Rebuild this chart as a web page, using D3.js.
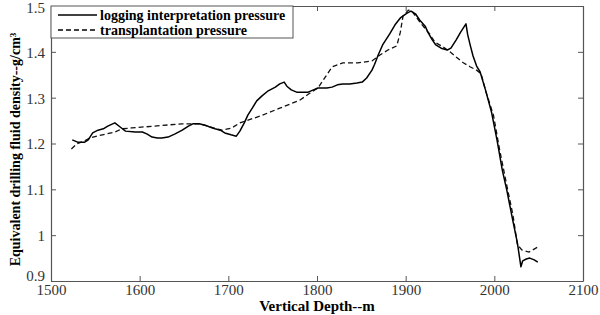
<!DOCTYPE html>
<html>
<head>
<meta charset="utf-8">
<script src="https://cdn.jsdelivr.net/npm/d3@7"></script>
<style>
  body { margin: 0; background: #fff; }
  svg text { font-family: "Liberation Serif", "Times New Roman", "DejaVu Serif", serif; }
</style>
</head>
<body>
<div id="chart"></div>
<script>
// logging interpretation pressure (solid)
const loggingDepth = [1524, 1530, 1538, 1542, 1547, 1553, 1559, 1564, 1572, 1578, 1584, 1595, 1603, 1608, 1614, 1620, 1625, 1632, 1640, 1648, 1655, 1660, 1667, 1674, 1679, 1685, 1691, 1696, 1703, 1709, 1713, 1718, 1722, 1727, 1732, 1738, 1745, 1753, 1758, 1763, 1766, 1771, 1777, 1784, 1790, 1796, 1801, 1811, 1817, 1823, 1829, 1837, 1845, 1851, 1856, 1862, 1865, 1869, 1874, 1882, 1888, 1894, 1902, 1906, 1911, 1916, 1922, 1925, 1930, 1934, 1940, 1947, 1951, 1957, 1962, 1968, 1970, 1973, 1976, 1980, 1984, 1990, 1997, 2003, 2009, 2014, 2020, 2026, 2030, 2032, 2036, 2040, 2045, 2049];
const loggingDensity = [1.208, 1.203, 1.203, 1.208, 1.223, 1.229, 1.232, 1.238, 1.245, 1.236, 1.227, 1.225, 1.225, 1.221, 1.214, 1.212, 1.212, 1.214, 1.221, 1.229, 1.238, 1.243, 1.243, 1.240, 1.236, 1.232, 1.229, 1.223, 1.219, 1.216, 1.227, 1.245, 1.262, 1.277, 1.293, 1.304, 1.315, 1.323, 1.330, 1.334, 1.325, 1.317, 1.312, 1.312, 1.312, 1.317, 1.321, 1.321, 1.323, 1.328, 1.330, 1.330, 1.332, 1.334, 1.343, 1.360, 1.373, 1.393, 1.415, 1.439, 1.459, 1.474, 1.485, 1.489, 1.483, 1.469, 1.456, 1.443, 1.426, 1.415, 1.408, 1.404, 1.408, 1.426, 1.443, 1.461, 1.437, 1.413, 1.391, 1.369, 1.356, 1.317, 1.267, 1.208, 1.142, 1.099, 1.040, 0.983, 0.931, 0.944, 0.948, 0.950, 0.946, 0.941];

// transplantation pressure (dashed)
const transDepth = [1523, 1529, 1537, 1544, 1558, 1572, 1580, 1591, 1617, 1648, 1668, 1683, 1693, 1704, 1713, 1736, 1758, 1781, 1792, 1801, 1817, 1829, 1846, 1862, 1871, 1880, 1890, 1894, 1897, 1903, 1907, 1916, 1927, 1933, 1942, 1950, 1958, 1965, 1973, 1980, 1985, 1991, 1999, 2006, 2014, 2021, 2026, 2031, 2039, 2049];
const transDensity = [1.188, 1.199, 1.205, 1.212, 1.219, 1.225, 1.232, 1.234, 1.238, 1.243, 1.243, 1.234, 1.229, 1.234, 1.245, 1.260, 1.277, 1.295, 1.310, 1.321, 1.367, 1.376, 1.376, 1.380, 1.393, 1.404, 1.413, 1.443, 1.478, 1.491, 1.489, 1.465, 1.439, 1.421, 1.411, 1.400, 1.387, 1.376, 1.367, 1.360, 1.352, 1.310, 1.262, 1.186, 1.109, 1.044, 0.979, 0.968, 0.963, 0.974];

const xTicks = [1500, 1600, 1700, 1800, 1900, 2000, 2100];
const yTicks = [0.9, 1, 1.1, 1.2, 1.3, 1.4, 1.5];
const legendLabels = ["logging interpretation pressure", "transplantation pressure"];

const width = 600, height = 315;
const margin = { top: 6, right: 17, bottom: 34, left: 51 };
const serif = "'Liberation Serif', 'Times New Roman', 'DejaVu Serif', serif";

const svg = d3.select("#chart").append("svg")
  .attr("width", width)
  .attr("height", height);

const x = d3.scaleLinear().domain([1500, 2100]).range([margin.left, width - margin.right]);
const y = d3.scaleLinear().domain([0.9, 1.5]).range([height - margin.bottom, margin.top]);

const axisColor = "#555";
const tickLen = 5;

// axes with inward ticks, mirrored on top and right
const fmtY = d => d === 1 ? "1" : d3.format(".1f")(d);

const gx = svg.append("g").attr("transform", `translate(0,${y(0.9)})`)
  .call(d3.axisBottom(x).tickValues(xTicks).tickSizeInner(-tickLen).tickSizeOuter(0).tickPadding(3).tickFormat(d3.format("d")));
const gxTop = svg.append("g").attr("transform", `translate(0,${y(1.5)})`)
  .call(d3.axisTop(x).tickValues(xTicks).tickSizeInner(-tickLen).tickSizeOuter(0).tickFormat(""));
const gy = svg.append("g").attr("transform", `translate(${x(1500)},0)`)
  .call(d3.axisLeft(y).tickValues(yTicks).tickSizeInner(-tickLen).tickSizeOuter(0).tickPadding(6).tickFormat(fmtY));
const gyRight = svg.append("g").attr("transform", `translate(${x(2100)},0)`)
  .call(d3.axisRight(y).tickValues(yTicks).tickSizeInner(-tickLen).tickSizeOuter(0).tickFormat(""));

[gx, gxTop, gy, gyRight].forEach(g => {
  g.attr("font-family", null);
  g.select(".domain").attr("stroke", axisColor).attr("stroke-width", 1.2);
  g.selectAll(".tick line").attr("stroke", axisColor);
  g.selectAll("text").attr("fill", "#333").style("font-size", "15px").style("font-family", serif);
});
// y labels sit slightly low; 0.9 sits a little above the corner, like the original
gy.selectAll(".tick text").attr("dy", d => d === 0.9 ? "-0.05em" : d === 1.5 ? "0.45em" : "0.36em");

// lines
const line = d3.line().x(d => x(d[0])).y(d => y(d[1]));
const loggingPts = loggingDepth.map((d, i) => [d, loggingDensity[i]]);
const transPts = transDepth.map((d, i) => [d, transDensity[i]]);

svg.append("path").datum(transPts)
  .attr("d", line).attr("fill", "none").attr("stroke", "#111")
  .attr("stroke-width", 1.3).attr("stroke-dasharray", "5,3");
svg.append("path").datum(loggingPts)
  .attr("d", line).attr("fill", "none").attr("stroke", "#000")
  .attr("stroke-width", 1.5).attr("stroke-linejoin", "round");

// axis labels
svg.append("text")
  .attr("x", 317).attr("y", 311)
  .attr("text-anchor", "middle")
  .style("font-family", serif)
  .style("font-weight", "bold").style("font-size", "15px")
  .text("Vertical Depth--m");

const yl = svg.append("text")
  .attr("transform", `translate(20,${(y(1.5) + y(0.9)) / 2 + 6}) rotate(-90)`)
  .attr("text-anchor", "middle")
  .style("font-family", serif)
  .style("font-weight", "bold").style("font-size", "14px");
yl.append("tspan").text("Equivalent drilling fluid density--g/cm");
yl.append("tspan").attr("dy", "-0.45em").style("font-size", "9px").text("3");

// legend
const legend = svg.append("g");
legend.append("rect")
  .attr("x", x(1500)).attr("y", y(1.5))
  .attr("width", 242).attr("height", 32)
  .attr("fill", "#fff").attr("stroke", axisColor).attr("stroke-width", 1);
legendLabels.forEach((label, i) => {
  const ly = y(1.5) + 9 + i * 15;
  legend.append("line")
    .attr("x1", x(1500) + 7).attr("x2", x(1500) + 46)
    .attr("y1", ly).attr("y2", ly)
    .attr("stroke", "#000").attr("stroke-width", i === 0 ? 1.6 : 1.3)
    .attr("stroke-dasharray", i === 0 ? null : "5,3");
  legend.append("text")
    .attr("x", x(1500) + 49).attr("y", ly + 4.5)
    .style("font-family", serif)
    .style("font-weight", "bold").style("font-size", "14px")
    .text(label);
});
</script>
</body>
</html>
